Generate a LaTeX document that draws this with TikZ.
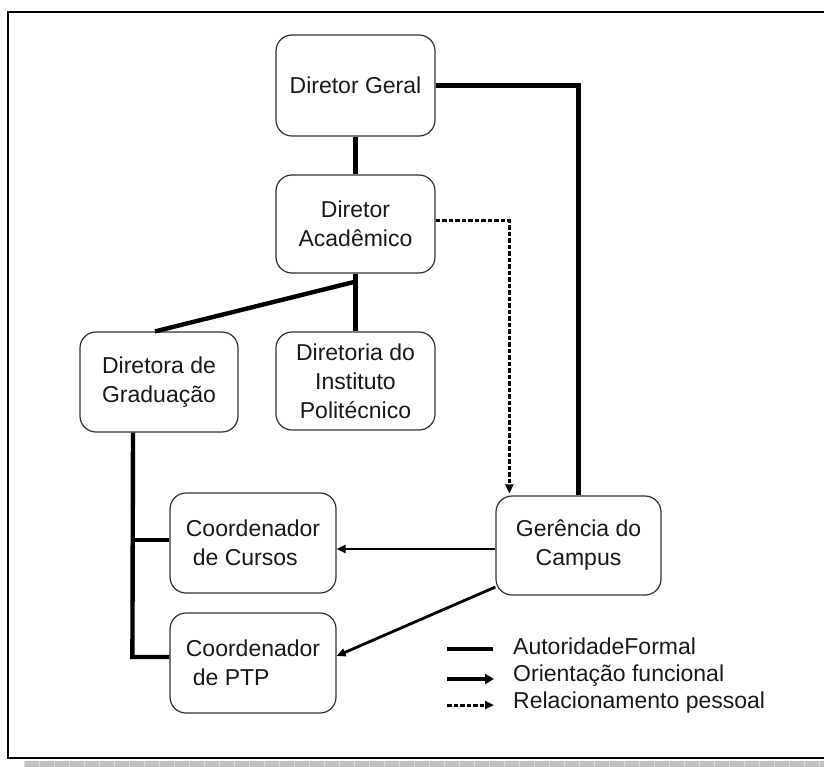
\documentclass[tikz,border=0pt]{standalone}
\usepackage{fontspec}
\setmainfont{Liberation Sans}
\usetikzlibrary{arrows.meta,calc}
\definecolor{edge}{HTML}{333333}
\definecolor{ink}{HTML}{1A1A1A}
\begin{document}
\begin{tikzpicture}[x=1pt,y=-1pt,
  box/.style={draw=edge,line width=1.2pt,rounded corners=16pt,fill=white,
    text=ink,align=center,inner sep=0pt,
    font=\fontsize{23}{29}\selectfont},
  auth/.style={line width=4.4pt,draw=black},
  orient/.style={line width=2.8pt,draw=black,-{Triangle[length=9pt,width=8pt]}},
  rel/.style={line width=3pt,draw=black,dash pattern=on 4.5pt off 2pt,
    -{Triangle[length=9pt,width=8pt]}},
  lbl/.style={anchor=west,text=ink,inner sep=0pt,font=\fontsize{23}{29}\selectfont}]
\useasboundingbox (0,0) rectangle (824,767);
% page frame and its shadow
\fill[gray!50] (24,761) rectangle (824,767);
\foreach \i in {24,39,...,824} \draw[gray!30,line width=0.6pt] (\i,761) -- (\i,767);
\draw[black,line width=2.4pt] (830,12) -- (8,12) -- (8,758) -- (830,758);

% organisational units
\node[box,minimum width=159pt,minimum height=101pt] (dg)  at (355.5,85.5) {Diretor Geral};
\node[box,minimum width=159pt,minimum height=98pt]  (da)  at (355.5,224) {Diretor\\Acadêmico};
\node[box,minimum width=158pt,minimum height=100pt] (dgr) at (159,382) {Diretora de\\Graduação};
\node[box,minimum width=159pt,minimum height=98pt]  (dip) at (355.5,381) {Diretoria do\\Instituto\\Politécnico};
\node[box,minimum width=166pt,minimum height=100pt,align=left] (cc) at (253,543) {Coordenador\\\hspace*{7pt}de Cursos};
\node[box,minimum width=166pt,minimum height=100pt,align=left] (cp) at (253,663) {Coordenador\\\hspace*{7pt}de PTP};
\node[box,minimum width=165pt,minimum height=99pt]  (gc)  at (578.5,545.5) {Gerência do\\Campus};

% formal authority
\draw[auth] (dg.south) -- (da.north);
\draw[auth] (dg.east) -| (gc.north);
\coordinate (split) at ($(da.south)+(0,8)$);
\draw[auth] (da.south) -- (dip.north);
\draw[auth] (split) -- ($(dgr.north)+(-4,0)$);
\coordinate (gtop) at ($(dgr.south)+(-26,0)$);
\coordinate (gbot) at ($(cp.west)+(-37,-6)$);
\draw[auth] (gtop) -- (gbot) -- ($(cp.west)+(0,-6)$);
\draw[auth] ($(cc.west)+(-37,-3)$) -- ($(cc.west)+(0,-3)$);

% personal relationship
\draw[rel] ($(da.east)+(0,-3)$) -| ($(gc.north west)+(14,-2)$);

% functional guidance
\draw[orient] ($(gc.west)+(0,3.5)$) -- ($(cc.east)+(0,6)$);
\draw[orient] ($(gc.west)+(0,41.5)$) -- ($(cp.east)+(0,-7)$);

% legend
\coordinate (la1) at (447,649); \coordinate (lb1) at (493,649);
\coordinate (la2) at (447,679); \coordinate (lb2) at (494,679);
\coordinate (la3) at (447,705); \coordinate (lb3) at (494,705);
\draw[line width=4.2pt] (la1) -- (lb1);
\draw[line width=4.2pt,-{Triangle[length=9pt,width=10pt]}] (la2) -- (lb2);
\draw[rel] (la3) -- (lb3);
\node[lbl] (t1) at (513,646) {AutoridadeFormal};
\node[lbl] (t2) at (513,676) {Orientação funcional};
\node[lbl] (t3) at (513,703) {Relacionamento pessoal};
\end{tikzpicture}
\end{document}
